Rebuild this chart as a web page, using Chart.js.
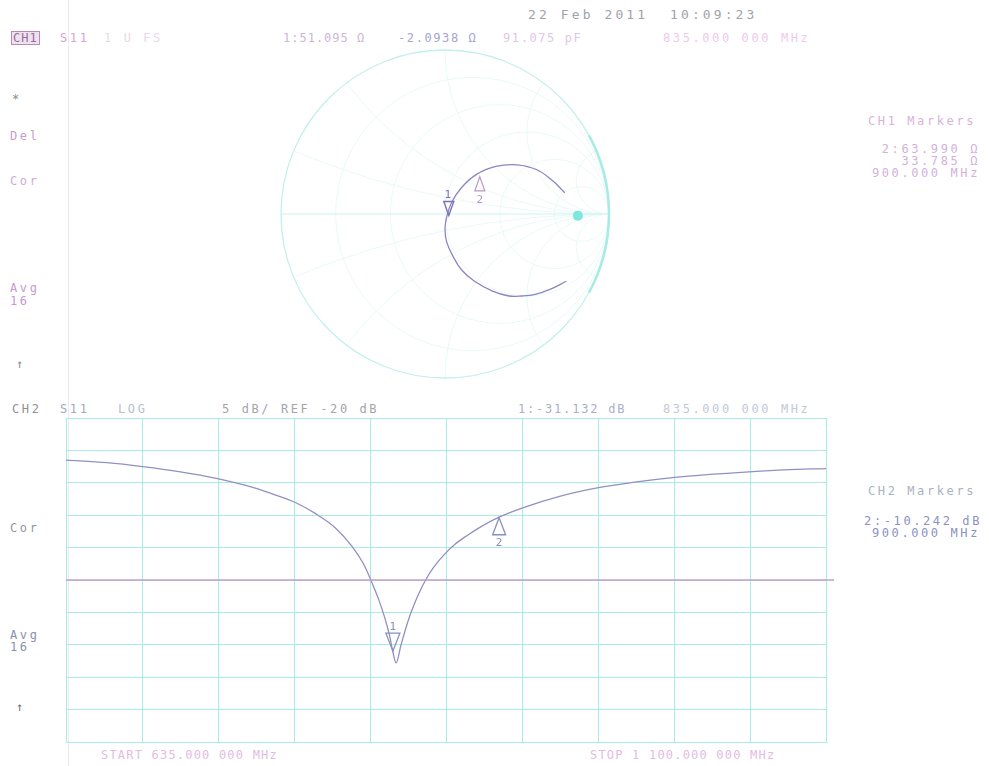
<!DOCTYPE html>
<html>
<head>
<meta charset="utf-8">
<script src="https://cdn.jsdelivr.net/npm/chart.js"></script>
<style>
  body { margin: 0; background: #fff; width: 989px; height: 766px; position: relative; overflow: hidden; }
  canvas { position: absolute; }
  .t { position: absolute; font: 12px "DejaVu Sans Mono", monospace; line-height: 12px; letter-spacing: 2.6px; white-space: pre; }
  .r { text-align: right; }
  #paper { position: absolute; left: 68px; top: 0; width: 1px; height: 766px; background: #efe8ef; }
</style>
</head>
<body>
<div id="paper"></div>

<!-- CH1 header -->
<div class="t" style="left:528px;top:9px;font-size:13px;letter-spacing:3.1px;color:#a2a2ac">22 Feb 2011  10:09:23</div>
<div class="t" style="left:11px;top:31px;color:#9a6c9e;background:#efe2ef;border:1px solid #b88cb8;letter-spacing:1px;padding:0 1px">CH1</div>
<div class="t" style="left:60px;top:32px;color:#d4a6d4">S11</div>
<div class="t" style="left:104px;top:32px;color:#ecd6ec">1 U FS</div>
<div class="t" style="left:283px;top:32px;color:#cdb6d8;letter-spacing:1px">1:51.095 Ω</div>
<div class="t" style="left:398px;top:32px;color:#a4a4d0;letter-spacing:1.6px">-2.0938 Ω</div>
<div class="t" style="left:503px;top:32px;color:#e2c6e6;letter-spacing:1.6px">91.075 pF</div>
<div class="t" style="left:663px;top:32px;color:#edcaed">835.000 000 MHz</div>

<div class="t" style="left:12px;top:93px;color:#8a8a8a">*</div>
<div class="t" style="left:10px;top:130px;color:#c8a0c8">Del</div>
<div class="t" style="left:10px;top:175px;color:#d4aad4">Cor</div>
<div class="t" style="left:10px;top:282px;color:#c898d0">Avg</div>
<div class="t" style="left:10px;top:295px;color:#c898d0">16</div>
<div class="t" style="left:16px;top:358px;color:#8c8c8c">↑</div>

<div class="t" style="left:868px;top:115px;color:#d8b2d8">CH1 Markers</div>
<div class="t r" style="left:860px;width:120px;top:143px;color:#d2b2da">2:63.990 Ω</div>
<div class="t r" style="left:860px;width:120px;top:155px;color:#d2b2da">33.785 Ω</div>
<div class="t r" style="left:860px;width:120px;top:167px;color:#d2b2da">900.000 MHz</div>

<!-- CH2 header -->
<div class="t" style="left:12px;top:403px;color:#909098">CH2</div>
<div class="t" style="left:60px;top:403px;color:#a2aac2">S11</div>
<div class="t" style="left:118px;top:403px;color:#b8c0cc">LOG</div>
<div class="t" style="left:222px;top:403px;color:#a4a4ac">5 dB/ REF -20 dB</div>
<div class="t" style="left:518px;top:403px;color:#a8b0c8;letter-spacing:1.8px">1:-31.132 dB</div>
<div class="t" style="left:663px;top:403px;color:#c2cad8">835.000 000 MHz</div>

<div class="t" style="left:10px;top:522px;color:#9098a0">Cor</div>
<div class="t" style="left:10px;top:629px;color:#8890b0">Avg</div>
<div class="t" style="left:10px;top:641px;color:#8890b0">16</div>
<div class="t" style="left:16px;top:701px;color:#707070">↑</div>

<div class="t" style="left:868px;top:485px;color:#aab2c2">CH2 Markers</div>
<div class="t r" style="left:860px;width:122px;top:515px;color:#8a92c2">2:-10.242 dB</div>
<div class="t r" style="left:860px;width:120px;top:527px;color:#8a92c2">900.000 MHz</div>

<div class="t" style="left:101px;top:749px;color:#e2bce2;letter-spacing:1.2px">START 635.000 000 MHz</div>
<div class="t" style="left:590px;top:749px;color:#e2bce2;letter-spacing:1.2px">STOP 1 100.000 000 MHz</div>

<canvas id="smith" width="340" height="340" style="left:275px;top:44px"></canvas>
<canvas id="logmag" width="782" height="336" style="left:60px;top:412px"></canvas>

<script>
// CH1: S11 on Smith chart (reflection coefficient)
var gammaRe = [0.74, 0.64, 0.55, 0.47, 0.39, 0.29, 0.18, 0.10, 0.05, 0.01, 0.00, 0.01, 0.04, 0.10, 0.19, 0.31, 0.44, 0.56, 0.66, 0.71, 0.73];
var gammaIm = [-0.41, -0.46, -0.49, -0.50, -0.50, -0.47, -0.41, -0.34, -0.26, -0.17, -0.09, -0.02, 0.07, 0.16, 0.24, 0.29, 0.30, 0.27, 0.20, 0.15, 0.13];
var smithMarkerRe = [0.011, 0.194];
var smithMarkerIm = [-0.021, 0.239];
var smithDot = [0.81, -0.01];

// CH2: S11 log magnitude
var freqMHz = [635, 660, 682, 705, 727, 745, 760, 775, 788, 800, 810, 817, 822, 826, 830, 833, 835, 837, 840, 845, 850, 855, 860, 866, 873, 880, 890, 900, 914, 937, 960, 983, 1006, 1029, 1053, 1075, 1100];
var s11dB = [-1.5, -1.9, -2.5, -3.3, -4.3, -5.4, -6.6, -8.0, -9.8, -12.0, -14.8, -17.5, -20.3, -22.8, -25.8, -28.6, -31.1, -32.8, -30.0, -25.8, -22.6, -20.0, -18.0, -16.2, -14.5, -13.2, -11.6, -10.3, -8.9, -7.1, -5.8, -4.9, -4.2, -3.7, -3.3, -3.0, -2.8];
var markerFreq = [835, 900];
var markerDB = [-31.132, -10.242];
var refLevel = -20;
var startMHz = 635, stopMHz = 1100;

var gridCol = '#a8ece6';

function tri(ctx, x, y, up, w, h) {
  ctx.beginPath();
  if (up) { ctx.moveTo(x, y); ctx.lineTo(x - w / 2, y + h); ctx.lineTo(x + w / 2, y + h); }
  else { ctx.moveTo(x, y); ctx.lineTo(x - w / 2, y - h); ctx.lineTo(x + w / 2, y - h); }
  ctx.closePath();
  ctx.stroke();
}

// smith grid drawn with the chart's own scales
var smithGrid = {
  id: 'smithGrid',
  beforeDatasetsDraw: function(chart) {
    var ctx = chart.ctx, xs = chart.scales.x, ys = chart.scales.y;
    var cx = xs.getPixelForValue(0), cy = ys.getPixelForValue(0);
    var R = xs.getPixelForValue(1) - cx;
    ctx.save();
    ctx.beginPath();
    ctx.arc(cx, cy, R, 0, Math.PI * 2);
    ctx.clip();
    ctx.strokeStyle = '#eaf9f7';
    ctx.lineWidth = 1;
    [0.2, 0.5, 1, 2, 5].forEach(function(r) {
      ctx.beginPath();
      ctx.arc(xs.getPixelForValue(r / (1 + r)), cy, R / (1 + r), 0, Math.PI * 2);
      ctx.stroke();
    });
    [0.2, 0.5, 1, 2, 5].forEach(function(x) {
      [1, -1].forEach(function(s) {
        ctx.beginPath();
        ctx.arc(xs.getPixelForValue(1), ys.getPixelForValue(s / x), R / x, 0, Math.PI * 2);
        ctx.stroke();
      });
    });
    ctx.restore();
    ctx.save();
    ctx.strokeStyle = '#cdf3ef';
    ctx.beginPath();
    ctx.moveTo(cx - R, cy); ctx.lineTo(cx + R, cy);
    ctx.stroke();
    ctx.strokeStyle = '#c2f0eb';
    ctx.lineWidth = 1.3;
    ctx.beginPath();
    ctx.arc(cx, cy, R, 0, Math.PI * 2);
    ctx.stroke();
    ctx.strokeStyle = '#a6ebe4';
    ctx.lineWidth = 2.5;
    ctx.beginPath();
    ctx.arc(cx, cy, R, -0.5, 0.5);
    ctx.stroke();
    ctx.restore();
  },
  afterDatasetsDraw: function(chart) {
    var ctx = chart.ctx, xs = chart.scales.x, ys = chart.scales.y;
    ctx.save();
    ctx.font = '11px "DejaVu Sans Mono"';
    ctx.textAlign = 'center';
    // marker 1 (active)
    var x1 = xs.getPixelForValue(smithMarkerRe[0]), y1 = ys.getPixelForValue(smithMarkerIm[0]);
    ctx.strokeStyle = '#7a72bc'; ctx.fillStyle = '#7a72bc'; ctx.lineWidth = 1.4;
    tri(ctx, x1 + 2, y1 - 2, false, 10, 14);
    ctx.fillText('1', x1 + 1, y1 - 19);
    // marker 2
    var x2 = xs.getPixelForValue(smithMarkerRe[1]), y2 = ys.getPixelForValue(smithMarkerIm[1]);
    ctx.strokeStyle = '#b69ac6'; ctx.fillStyle = '#b69ac6'; ctx.lineWidth = 1.2;
    tri(ctx, x2 + 3, y2 + 2, true, 10, 14);
    ctx.fillText('2', x2 + 3, y2 + 28);
    ctx.restore();
  }
};

new Chart(document.getElementById('smith'), {
  type: 'scatter',
  data: {
    datasets: [
      {
        data: gammaRe.map(function(v, i) { return { x: v, y: gammaIm[i] }; }),
        showLine: true,
        borderColor: '#8e84c0',
        borderWidth: 1.3,
        pointRadius: 0,
        tension: 0.4
      },
      {
        data: [{ x: smithDot[0], y: smithDot[1] }],
        pointRadius: 5,
        pointBackgroundColor: '#7ee6de',
        pointBorderWidth: 0
      }
    ]
  },
  options: {
    responsive: false,
    animation: false,
    layout: { padding: 6 },
    plugins: { legend: { display: false }, tooltip: { enabled: false } },
    scales: {
      x: { min: -1, max: 1, display: false },
      y: { min: -1, max: 1, display: false }
    }
  },
  plugins: [smithGrid]
});

// log mag markers
var logMarkers = {
  id: 'logMarkers',
  afterDatasetsDraw: function(chart) {
    var ctx = chart.ctx, xs = chart.scales.x, ys = chart.scales.y;
    ctx.save();
    ctx.strokeStyle = '#8890bc';
    ctx.fillStyle = '#8890bc';
    ctx.lineWidth = 1.3;
    ctx.font = '11px "DejaVu Sans Mono"';
    ctx.textAlign = 'center';
    var x1 = xs.getPixelForValue(markerFreq[0]), y1 = ys.getPixelForValue(markerDB[0]);
    tri(ctx, x1, y1 - 1, false, 14, 18);
    ctx.fillText('1', x1, y1 - 22);
    var x2 = xs.getPixelForValue(markerFreq[1]), y2 = ys.getPixelForValue(markerDB[1]);
    tri(ctx, x2, y2 + 1, true, 13, 17);
    ctx.fillText('2', x2, y2 + 29);
    ctx.restore();
  }
};

var xGrid = [];
for (var i = 0; i <= 10; i++) xGrid.push(startMHz + i * (stopMHz - startMHz) / 10);

new Chart(document.getElementById('logmag'), {
  type: 'line',
  data: {
    datasets: [
      {
        data: [{ x: startMHz, y: refLevel }, { x: stopMHz + 5, y: refLevel }],
        borderColor: '#c69ec4',
        borderWidth: 1.6,
        pointRadius: [0, 4],
        pointStyle: 'triangle',
        rotation: 270,
        pointBackgroundColor: '#fff',
        pointBorderColor: '#c69ec4',
        clip: false
      },
      {
        data: freqMHz.map(function(f, i) { return { x: f, y: s11dB[i] }; }),
        borderColor: '#9090c4',
        borderWidth: 1.3,
        pointRadius: 0,
        cubicInterpolationMode: 'monotone'
      }
    ]
  },
  options: {
    responsive: false,
    animation: false,
    layout: { padding: { left: 6, top: 6, right: 16, bottom: 6 } },
    plugins: { legend: { display: false }, tooltip: { enabled: false } },
    scales: {
      x: {
        type: 'linear', min: startMHz, max: stopMHz,
        afterBuildTicks: function(s) { s.ticks = xGrid.map(function(v) { return { value: v }; }); },
        afterFit: function(s) { s.height = 0; },
        ticks: { display: false },
        grid: { color: gridCol, drawTicks: false },
        border: { color: gridCol }
      },
      y: {
        min: -45, max: 5,
        ticks: { display: false, stepSize: 5 },
        afterFit: function(s) { s.width = 0; },
        grid: { color: gridCol, drawTicks: false },
        border: { color: gridCol }
      }
    }
  },
  plugins: [logMarkers]
});
</script>
</body>
</html>
